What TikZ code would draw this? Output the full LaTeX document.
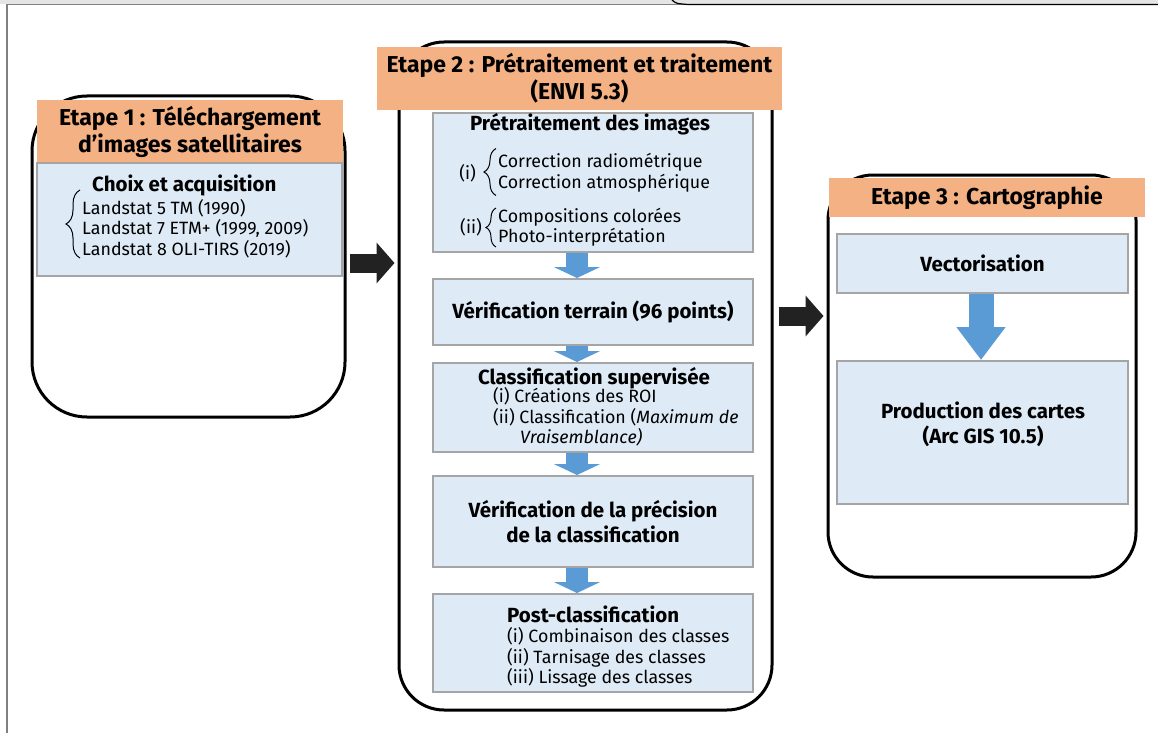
\documentclass[tikz,border=0pt]{standalone}
\usepackage{fontspec}
\setmainfont{Fira Sans}
\usetikzlibrary{arrows.meta,decorations.pathreplacing}
\definecolor{orangeh}{HTML}{F4B183}
\definecolor{bleub}{HTML}{DEEBF7}
\definecolor{grisb}{HTML}{A5A5A5}
\definecolor{bleuf}{HTML}{5B9BD5}
\definecolor{noirf}{HTML}{222222}
\tikzset{
  etape/.style={draw, line width=3pt, rounded corners=#1, inner sep=0},
  etape/.default=45pt,
  entete/.style={fill=orangeh, inner sep=0, align=center, font=\fontsize{23}{27}\selectfont\bfseries},
  bloc/.style={fill=bleub, draw=grisb, line width=2pt, inner sep=0, align=center, font=\fontsize{20.5}{25}\selectfont\bfseries},
  titre/.style={inner sep=0, align=center, font=\fontsize{20.5}{25}\selectfont\bfseries},
  liste/.style={inner sep=0, align=left, font=\fontsize{17.8}{20.5}\selectfont},
  accolade/.style={decorate, decoration={brace, amplitude=#1}, line width=1pt},
  fleche noire/.style={noirf, line width=19pt, -{Triangle[length=18pt, width=40pt]}},
  fleche bleue/.style={bleuf, line width=22pt, -{Triangle[length=11pt, width=46pt]}},
}
\begin{document}
\begin{tikzpicture}[x=1pt, y=-1pt]
  \useasboundingbox (0,0) rectangle (1158,733);
  % 上端と左端の枠
  \fill[gray!20] (0,0) rectangle (1158,4);
  \draw[gray, line width=1.5pt] (1158,4.5) -- (7,4.5) -- (7,733);
  \draw[line width=1.2pt] (672,0) .. controls (676,3.5) .. (688,4.5) -- (1158,4.5);

  % 三つの段階の枠
  \node[etape=55pt, minimum width=313pt, minimum height=321pt] (e1) at (188.5,256.5) {};
  \node[etape, minimum width=373pt, minimum height=668pt] (e2) at (585.5,376) {};
  \node[etape, minimum width=308pt, minimum height=402pt] (e3) at (982,376) {};

  % 見出し
  \node[entete, minimum width=306pt, minimum height=63pt] (h1) at (190,131.5) {Etape 1 : Téléchargement\\d’images satellitaires};
  \node[entete, minimum width=405pt, minimum height=63pt] (h2) at (579.5,78.5) {Etape 2 : Prétraitement et traitement\\(ENVI 5.3)};
  \node[entete, minimum width=316pt, minimum height=39pt] (h3) at (987,197.5) {Etape 3 : Cartographie};

  % 段階1
  \node[bloc, minimum width=305pt, minimum height=113pt] (b1) at (189.5,219.5) {};
  \node[titre, anchor=base west] (t1) at (92,191) {Choix et acquisition};
  \node[liste, anchor=west] (l1) at (82,228.5) {Landstat 5 TM (1990)\\Landstat 7 ETM+ (1999, 2009)\\Landstat 8 OLI-TIRS (2019)};
  \draw[accolade=14pt] ([xshift=-2pt]l1.south west) -- ([xshift=-2pt, yshift=9pt]l1.north west);

  % 段階2
  \node[bloc, minimum width=320pt, minimum height=139pt] (b2a) at (593,182.5) {};
  \node[titre, anchor=base] (t2a) at (590,131) {Prétraitement des images};
  \node[liste, anchor=west] (l2a) at (498,173) {Correction radiométrique\\Correction atmosphérique};
  \draw[accolade=12pt] ([xshift=-2pt, yshift=-3pt]l2a.south west) -- ([xshift=-2pt, yshift=5pt]l2a.north west);
  \node[liste, anchor=east] (i2a) at ([xshift=-22pt]l2a.west) {(i)};
  \node[liste, anchor=west] (m2a) at (498,227.5) {Compositions colorées\\Photo-interprétation};
  \draw[accolade=10pt] ([xshift=-2pt]m2a.south west) -- ([xshift=-2pt]m2a.north west);
  \node[liste, anchor=east] (ii2a) at ([xshift=-16pt]m2a.west) {(ii)};

  \node[bloc, minimum width=320pt, minimum height=66pt] (b2b) at (593,312) {Vérification terrain (96 points)};

  \node[bloc, minimum width=320pt, minimum height=89pt] (b2c) at (593,407.5) {};
  \node[titre, anchor=base] (t2c) at (594,384) {Classification supervisée};
  \node[liste, anchor=west] (l2c) at (493,417) {(i) Créations des ROI\\(ii) Classification (\textit{Maximum de}\\\hspace*{27pt}\textit{Vraisemblance)}};

  \node[bloc, minimum width=320pt, minimum height=91pt] (b2d) at (593,521.5) {Vérification de la précision\\de la classification};

  \node[bloc, minimum width=320pt, minimum height=98pt] (b2e) at (593,643) {};
  \node[titre, anchor=base west] (t2e) at (507,622) {Post-classification};
  \node[liste, anchor=west] (l2e) at (507,657.5) {(i) Combinaison des classes\\(ii) Tarnisage des classes\\(iii) Lissage des classes};

  % 段階3
  \node[bloc, minimum width=291pt, minimum height=59pt] (b3a) at (982.5,263.5) {Vectorisation};
  \node[bloc, minimum width=291pt, minimum height=143pt] (b3b) at (982.5,432.5) {};
  \node[titre] (t3b) at (983,424) {Production des cartes\\(Arc GIS 10.5)};

  % 矢印
  \draw[fleche noire, shorten <=3pt, shorten >=3pt] (e1.east |- 0,263) -- (e2.west |- 0,263);
  \draw[fleche noire, shorten <=5pt, shorten >=3pt] (e2.east |- 0,316) -- (e3.west |- 0,316);
  \draw[fleche bleue] (b2a.south -| 577,0) -- (b2b.north -| 577,0);
  \draw[fleche bleue] (b2b.south -| 577,0) -- (b2c.north -| 577,0);
  \draw[fleche bleue] (b2c.south -| 577,0) -- (b2d.north -| 577,0);
  \draw[fleche bleue] (b2d.south -| 577,0) -- (b2e.north -| 577,0);
  \draw[fleche bleue, line width=25pt, -{Triangle[length=33pt, width=47pt]}] (b3a.south -| 981,0) -- (b3b.north -| 981,0);
\end{tikzpicture}
\end{document}
